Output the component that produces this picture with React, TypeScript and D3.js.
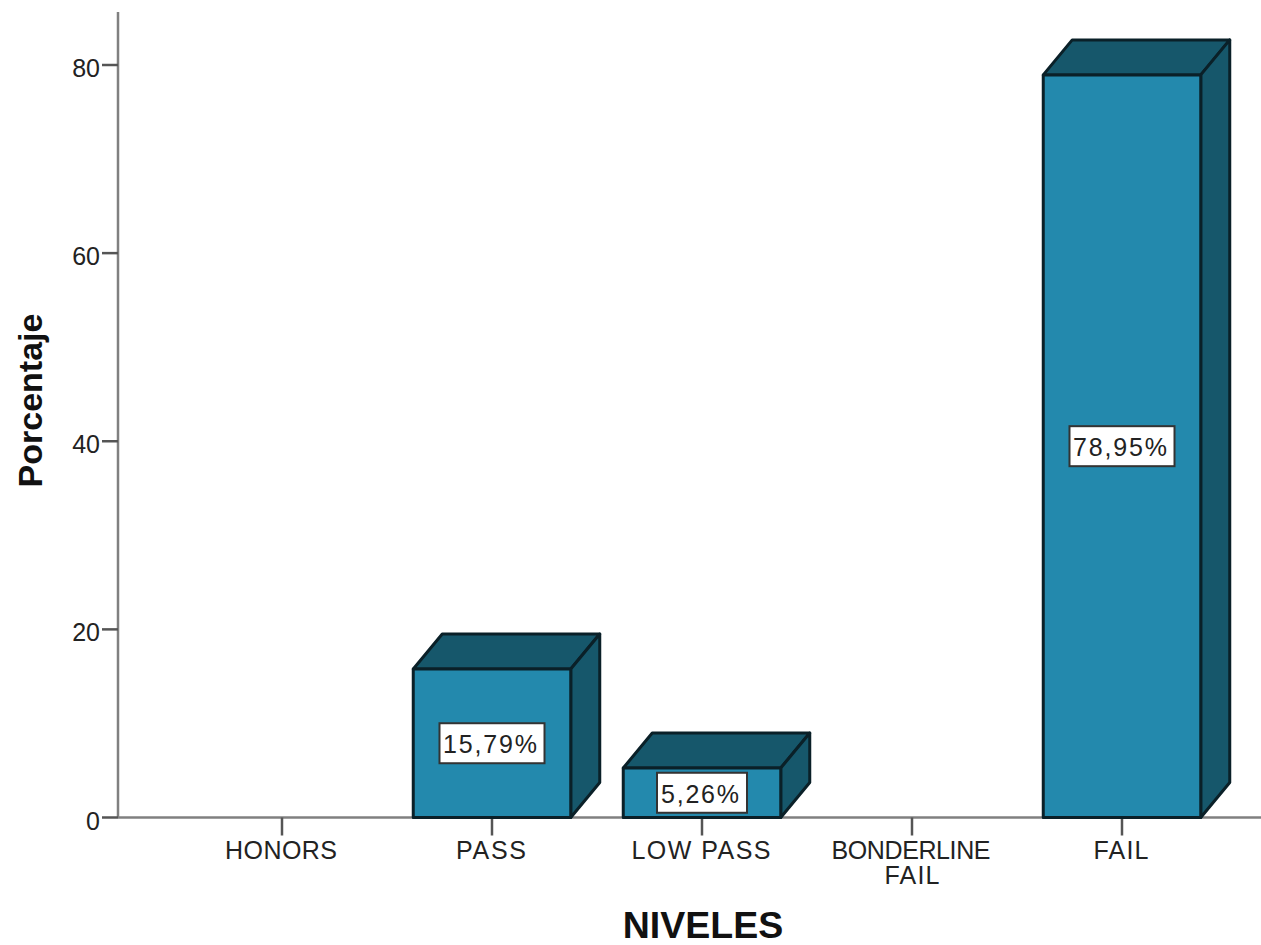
import React from "react";
import * as d3 from "d3";

const categories = ["HONORS", "PASS", "LOW PASS", "BONDERLINE|FAIL", "FAIL"];
const percentages = [0, 15.79, 5.26, 0, 78.95];
const valueLabels = ["", "15,79%", "5,26%", "", "78,95%"];
const yTicks = [0, 20, 40, 60, 80];

const width = 1261;
const height = 945;
const font = "'Liberation Sans', Arial, sans-serif";
const frontColor = "#2389ad";
const sideColor = "#16576b";
const edgeColor = "#0a2028";
const axisColor = "#808080";
const tickColor = "#555555";
const textColor = "#222222";

const depthX = 29;
const depthY = 35;

// Rendered widths that give the category and value text its loose tracking.
const textWidths: Record<string, number> = {
  HONORS: 112,
  PASS: 70,
  "LOW PASS": 139,
  BONDERLINE: 159,
  FAIL: 55,
  "15,79%": 94,
  "5,26%": 78,
  "78,95%": 94,
};
const boxWidths: Record<string, number> = { "15,79%": 105, "5,26%": 90, "78,95%": 105 };

export default function App() {
  const x = d3.scaleBand<string>().domain(categories).range([177, 1227]).paddingInner(0.25).paddingOuter(0.125);
  const y = d3.scaleLinear().domain([0, 80]).range([817.5, 65]);
  const base = y(0);

  return (
    <svg width={width} height={height} viewBox={`0 0 ${width} ${height}`}
      style={{ position: "absolute", left: 0, top: 0, background: "#fff" }} fontFamily={font}>
      {/* axes */}
      <line x1={118} x2={118} y1={12} y2={base} stroke={axisColor} strokeWidth={2.5} />
      <line x1={118} x2={1261} y1={base} y2={base} stroke={axisColor} strokeWidth={2.5} />

      {yTicks.map((t) => (
        <g key={t}>
          <line x1={102} x2={118} y1={y(t)} y2={y(t)} stroke={tickColor} strokeWidth={2.5} />
          <text x={100} y={y(t) + 12} textAnchor="end" fontSize={25} fill={textColor}>{t}</text>
        </g>
      ))}

      {categories.map((c) => {
        const cx = x(c)! + x.bandwidth() / 2;
        return (
          <g key={c}>
            <line x1={cx} x2={cx} y1={base} y2={base + 18} stroke={tickColor} strokeWidth={2.5} />
            {c.split("|").map((part, i) => (
              <text key={part} x={i === 0 ? cx - 1 : cx} y={base + 41 + i * 25} textAnchor="middle" fontSize={25}
                textLength={textWidths[part]} lengthAdjust="spacing" fill={textColor}>{part}</text>
            ))}
          </g>
        );
      })}

      {/* extruded bars */}
      {categories.map((c, i) => {
        const v = percentages[i];
        if (!v) return null;
        const x0 = x(c)!;
        const x1 = x0 + x.bandwidth();
        const top = y(v);
        const roof = d3.path();
        roof.moveTo(x0, top);
        roof.lineTo(x0 + depthX, top - depthY);
        roof.lineTo(x1 + depthX, top - depthY);
        roof.lineTo(x1, top);
        roof.closePath();
        const side = d3.path();
        side.moveTo(x1, top);
        side.lineTo(x1 + depthX, top - depthY);
        side.lineTo(x1 + depthX, base - depthY);
        side.lineTo(x1, base);
        side.closePath();
        const edge = { stroke: edgeColor, strokeWidth: 3, strokeLinejoin: "round" as const };
        return (
          <g key={c}>
            <path d={roof.toString()} fill={sideColor} {...edge} />
            <path d={side.toString()} fill={sideColor} {...edge} />
            <rect x={x0} y={top} width={x1 - x0} height={base - top} fill={frontColor} {...edge} />
          </g>
        );
      })}

      {/* value labels */}
      {categories.map((c, i) => {
        const label = valueLabels[i];
        if (!label) return null;
        const cx = x(c)! + x.bandwidth() / 2;
        const cy = y(percentages[i] / 2);
        const w = boxWidths[label];
        return (
          <g key={c}>
            <rect x={cx - w / 2} y={cy - 20} width={w} height={40} fill="#fff" stroke="#333" strokeWidth={2} />
            <text x={cx - 2} y={cy + 10} textAnchor="middle" fontSize={25}
              textLength={textWidths[label]} lengthAdjust="spacing" fill={textColor}>{label}</text>
          </g>
        );
      })}

      {/* axis titles */}
      <text x={703} y={938} textAnchor="middle" fontSize={37.5} fontWeight="bold" fill="#111">NIVELES</text>
      <text transform="translate(42,400.5) rotate(-90)" textAnchor="middle" fontSize={34} fontWeight="bold" fill="#111">Porcentaje</text>
    </svg>
  );
}
